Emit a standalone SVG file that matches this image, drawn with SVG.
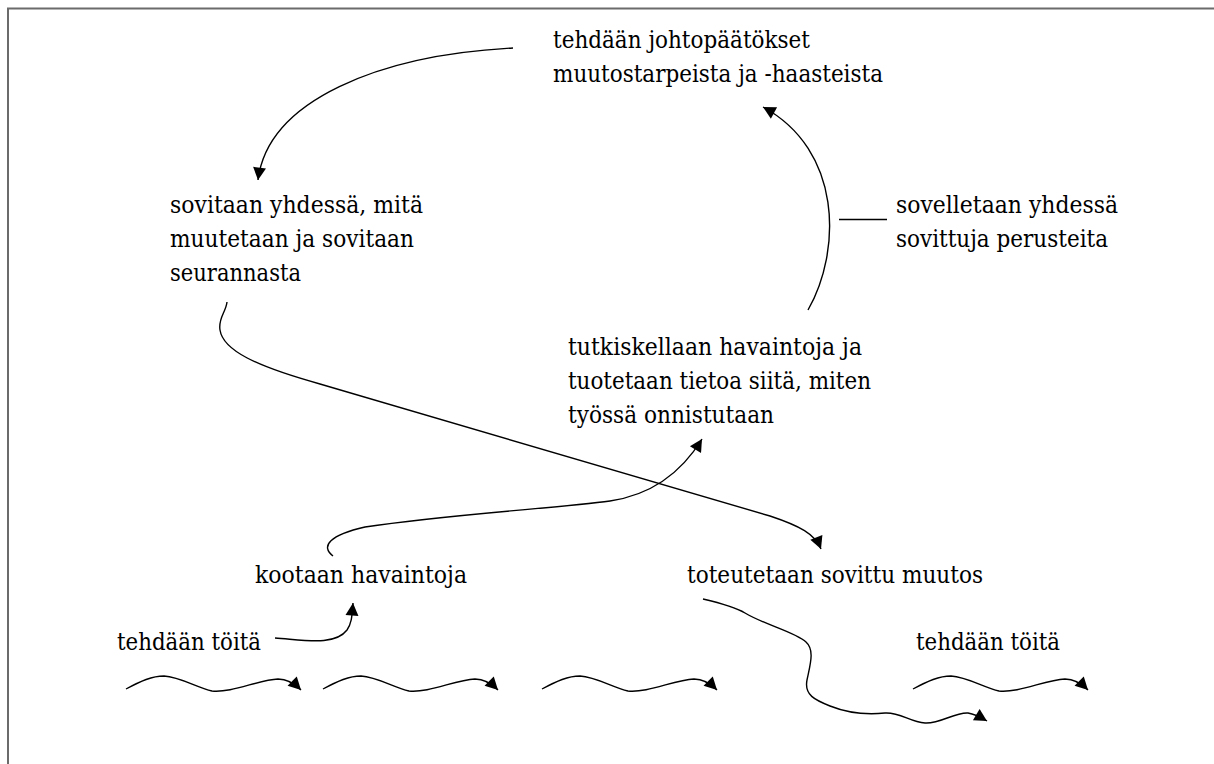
<svg xmlns="http://www.w3.org/2000/svg" width="1214" height="764" viewBox="0 0 1214 764">
  <style>
    .con { fill: none; stroke: #000; stroke-width: 1.4; }
    .arr { marker-end: url(#ah); }
    .lbl { font-family: 'DejaVu Serif', serif; font-size: 25px; fill: #000; }
  </style>
  <defs>
    <marker id="ah" markerUnits="userSpaceOnUse" markerWidth="20" markerHeight="20" refX="12.5" refY="6.5" orient="auto" overflow="visible">
      <path d="M0,0 L12.5,6.5 L0,13 z" fill="#000" stroke="none"/>
    </marker>
    <!-- wavy "work" arrow, drawn from its start point -->
    <path id="wave" class="con arr" d="M0,0 C15,-8 26,-13 38,-13 C54,-12 70,-2 86,2 C106,4 132,-9 152,-10 C162,-10 169,-5 175,1"/>
  </defs>

  <rect x="8" y="8.5" width="1220" height="770" fill="#fff" stroke="#6b6b6b" stroke-width="2"/>

  <g class="lbl">
    <g id="n-johtopaatokset">
      <text x="553" y="48" textLength="257" lengthAdjust="spacingAndGlyphs">tehdään johtopäätökset</text>
      <text x="553" y="82" textLength="330" lengthAdjust="spacingAndGlyphs">muutostarpeista ja -haasteista</text>
    </g>
    <g id="n-sovitaan">
      <text x="170" y="213" textLength="253" lengthAdjust="spacingAndGlyphs">sovitaan yhdessä, mitä</text>
      <text x="170" y="247" textLength="244" lengthAdjust="spacingAndGlyphs">muutetaan ja sovitaan</text>
      <text x="170" y="281" textLength="131" lengthAdjust="spacingAndGlyphs">seurannasta</text>
    </g>
    <g id="n-sovelletaan">
      <text x="896" y="213" textLength="222" lengthAdjust="spacingAndGlyphs">sovelletaan yhdessä</text>
      <text x="896" y="247" textLength="212" lengthAdjust="spacingAndGlyphs">sovittuja perusteita</text>
    </g>
    <g id="n-tutkiskellaan">
      <text x="568" y="355" textLength="294" lengthAdjust="spacingAndGlyphs">tutkiskellaan havaintoja ja</text>
      <text x="568" y="389" textLength="303" lengthAdjust="spacingAndGlyphs">tuotetaan tietoa siitä, miten</text>
      <text x="568" y="423" textLength="206" lengthAdjust="spacingAndGlyphs">työssä onnistutaan</text>
    </g>
    <g id="n-kootaan">
      <text x="255" y="583" textLength="212" lengthAdjust="spacingAndGlyphs">kootaan havaintoja</text>
    </g>
    <g id="n-toteutetaan">
      <text x="687" y="583" textLength="296" lengthAdjust="spacingAndGlyphs">toteutetaan sovittu muutos</text>
    </g>
    <g id="n-toita-1">
      <text x="117" y="650" textLength="144" lengthAdjust="spacingAndGlyphs">tehdään töitä</text>
    </g>
    <g id="n-toita-2">
      <text x="916" y="650" textLength="144" lengthAdjust="spacingAndGlyphs">tehdään töitä</text>
    </g>
  </g>

  <g id="connectors">
    <path class="con arr" d="M513,48 C380,55 268,100 258,180"/>
    <path class="con arr" d="M808,310 C842,250 842,150 763,107"/>
    <path class="con" d="M839,219.5 L887,219.5"/>
    <path class="con arr" d="M227,302 C226,312 218,318 220,330 C223,350 255,366 320,384 L770,516 C800,526 815,534 821,549"/>
    <path class="con arr" d="M333,556 C320,546 330,535 365,527 C450,514 560,508 610,501 C650,495 680,475 702,439"/>
    <path class="con arr" d="M275,638 C305,640 335,646 347,630 C352,623 352,615 353,603"/>
    <path class="con arr" d="M703,599 C720,603 735,607 745,613 C765,625 795,632 806,642 C815,650 810,665 807,680 C804,695 815,700 830,706 C845,712 865,715 885,713 C900,712 910,722 925,723 C940,724 955,712 968,713 C975,714 982,718 987,721"/>
    <use href="#wave" x="126" y="689"/>
    <use href="#wave" x="323" y="689"/>
    <use href="#wave" x="542" y="689"/>
    <use href="#wave" x="913" y="689"/>
  </g>
</svg>
